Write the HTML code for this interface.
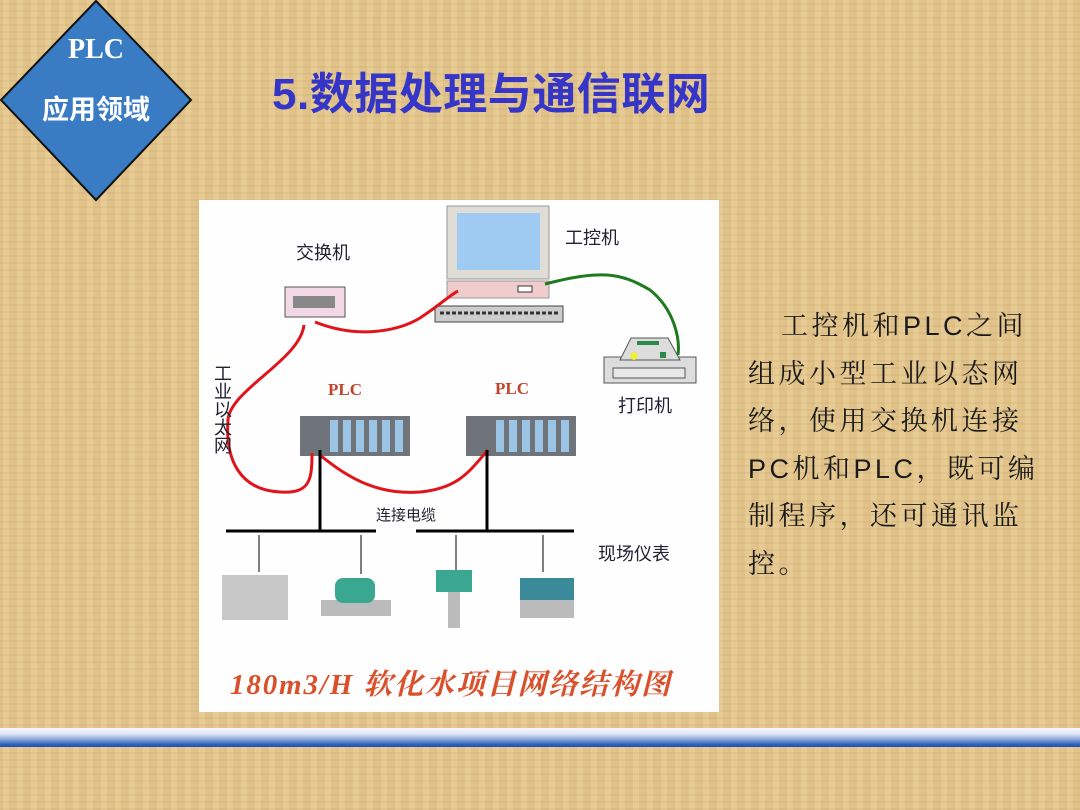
<!DOCTYPE html>
<html><head><meta charset="utf-8"><style>
body{margin:0;width:1080px;height:810px;overflow:hidden;position:relative;font-family:"Liberation Sans","Noto Sans CJK SC",sans-serif;
background:repeating-linear-gradient(90deg,rgba(160,120,60,.08) 0 3px,rgba(255,240,200,.08) 3px 9px,rgba(140,100,50,.06) 9px 14px),
repeating-linear-gradient(0deg,rgba(160,120,60,.07) 0 2px,rgba(255,240,200,.05) 2px 7px),#e4c68c;}
.t{position:absolute;left:272px;top:58px;font-size:44px;font-weight:bold;color:#3535c8;white-space:nowrap;letter-spacing:0.5px}
.r{position:absolute;left:748px;top:303px;width:330px;font-size:27px;line-height:47.5px;color:#1a1a1a;letter-spacing:3.5px;white-space:nowrap;font-family:"Liberation Sans","Noto Serif CJK SC",serif}
.bar{position:absolute;left:0;top:728px;width:1080px;height:19px;background:linear-gradient(#f6f8ff 0%,#dfe6f5 30%,#8da7d8 60%,#2f63c0 85%,#1c4fb0 100%)}
</style></head><body>
<svg style="position:absolute;left:0;top:0" width="200" height="205">
<polygon points="96,1 191,100 96,200 1,100" fill="#3a7cc4" stroke="#111" stroke-width="2"/>
<text x="96" y="58" text-anchor="middle" font-family="Liberation Serif,serif" font-weight="bold" font-size="28" fill="#fff">PLC</text>
<text x="96" y="119" text-anchor="middle" font-family="Liberation Sans,Noto Sans CJK SC,sans-serif" font-weight="bold" font-size="27" fill="#fff">应用领域</text>
</svg>
<div class="t">5.数据处理与通信联网</div>
<svg style="position:absolute;left:0;top:0" width="1080" height="810" font-family="Liberation Sans,Noto Sans CJK SC,sans-serif">
<rect x="199" y="200" width="520" height="512" fill="#fefefe"/>
<rect x="447" y="206" width="102" height="73" fill="#e0dcd6" stroke="#999"/>
<rect x="457" y="213" width="83" height="57" fill="#9fcaf2"/>
<rect x="447" y="281" width="102" height="17" fill="#f0cccc" stroke="#999"/>
<rect x="518" y="286" width="14" height="6" fill="#fff" stroke="#333"/>
<rect x="435" y="306" width="128" height="16" fill="#ccc" stroke="#444"/>
<line x1="440" y1="313" x2="558" y2="313" stroke="#333" stroke-width="3" stroke-dasharray="4 2"/>
<text x="565" y="244" font-size="18" fill="#223">工控机</text>
<rect x="285" y="287" width="60" height="30" fill="#f2d8e4" stroke="#555"/>
<rect x="293" y="296" width="42" height="12" fill="#888"/>
<text x="296" y="259" font-size="18" fill="#223">交换机</text>
<rect x="604" y="357" width="92" height="26" fill="#ddd" stroke="#555"/>
<polygon points="620,360 631,338 668,338 680,360" fill="#ddd" stroke="#555"/>
<rect x="637" y="341" width="22" height="4" fill="#2a8a4a"/>
<circle cx="634" cy="356" r="4" fill="#ee4"/>
<rect x="660" y="352" width="6" height="6" fill="#2a8a4a"/>
<rect x="613" y="368" width="72" height="10" fill="#e8e8e8" stroke="#555"/>
<text x="618" y="412" font-size="18" fill="#223">打印机</text>
<text x="328" y="395" font-family="Liberation Serif,serif" font-weight="bold" font-size="17" fill="#c0442a">PLC</text>
<text x="495" y="394" font-family="Liberation Serif,serif" font-weight="bold" font-size="17" fill="#c0442a">PLC</text>
<rect x="300" y="416" width="110" height="40" fill="#6e747a"/>
<rect x="466" y="416" width="110" height="40" fill="#6e747a"/>
<g fill="#9cc4e4"><rect x="330" y="420" width="8" height="32"/><rect x="343" y="420" width="8" height="32"/><rect x="356" y="420" width="8" height="32"/><rect x="369" y="420" width="8" height="32"/><rect x="382" y="420" width="8" height="32"/><rect x="395" y="420" width="8" height="32"/>
<rect x="496" y="420" width="8" height="32"/><rect x="509" y="420" width="8" height="32"/><rect x="522" y="420" width="8" height="32"/><rect x="535" y="420" width="8" height="32"/><rect x="548" y="420" width="8" height="32"/><rect x="561" y="420" width="8" height="32"/></g>
<path d="M315,322 C360,340 400,330 420,318 C440,305 450,295 458,291" stroke="#e0141a" stroke-width="3" fill="none"/>
<path d="M304,325 C300,360 230,390 228,420 C225,460 240,490 280,492 C310,494 312,480 312,453" stroke="#e0141a" stroke-width="3" fill="none"/>
<path d="M320,455 C350,480 380,495 420,492 C460,488 470,470 488,450" stroke="#e0141a" stroke-width="3" fill="none"/>
<path d="M545,284 C600,270 620,272 650,290 C675,310 680,340 678,355" stroke="#1e7a1e" stroke-width="3" fill="none"/>
<text x="222" y="364" font-size="18" fill="#223" writing-mode="tb">工业以太网</text>
<g stroke="#000"><line x1="320" y1="450" x2="320" y2="531" stroke-width="3"/><line x1="487" y1="450" x2="487" y2="531" stroke-width="3"/>
<line x1="226" y1="531" x2="376" y2="531" stroke-width="3"/><line x1="416" y1="531" x2="574" y2="531" stroke-width="3"/>
<line x1="259" y1="535" x2="259" y2="572"/><line x1="361" y1="535" x2="361" y2="574"/><line x1="456" y1="535" x2="456" y2="572"/><line x1="543" y1="535" x2="543" y2="572"/></g>
<text x="376" y="520" font-size="15" fill="#223">连接电缆</text>
<text x="598" y="560" font-size="18" fill="#223">现场仪表</text>
<rect x="222" y="575" width="66" height="45" fill="#c8c8c8"/>
<rect x="321" y="600" width="70" height="16" fill="#bbb"/><rect x="335" y="578" width="40" height="25" rx="8" fill="#3aa890"/>
<rect x="436" y="570" width="36" height="22" fill="#3aa890"/><rect x="448" y="592" width="12" height="36" fill="#bbb"/>
<rect x="520" y="578" width="54" height="22" fill="#3a8a9a"/><rect x="520" y="600" width="54" height="18" fill="#bbb"/>
<text x="230" y="694" font-family="Liberation Serif,Noto Serif CJK SC,serif" font-style="italic" font-weight="bold" font-size="29" fill="#d9502a" textLength="440">180m3/H 软化水项目网络结构图</text>
</svg>
<div class="r">&nbsp;&nbsp;&nbsp;工控机和PLC之间<br>组成小型工业以态网<br>络，使用交换机连接<br>PC机和PLC，既可编<br>制程序，还可通讯监<br>控。</div>
<div class="bar"></div>
</body></html>
